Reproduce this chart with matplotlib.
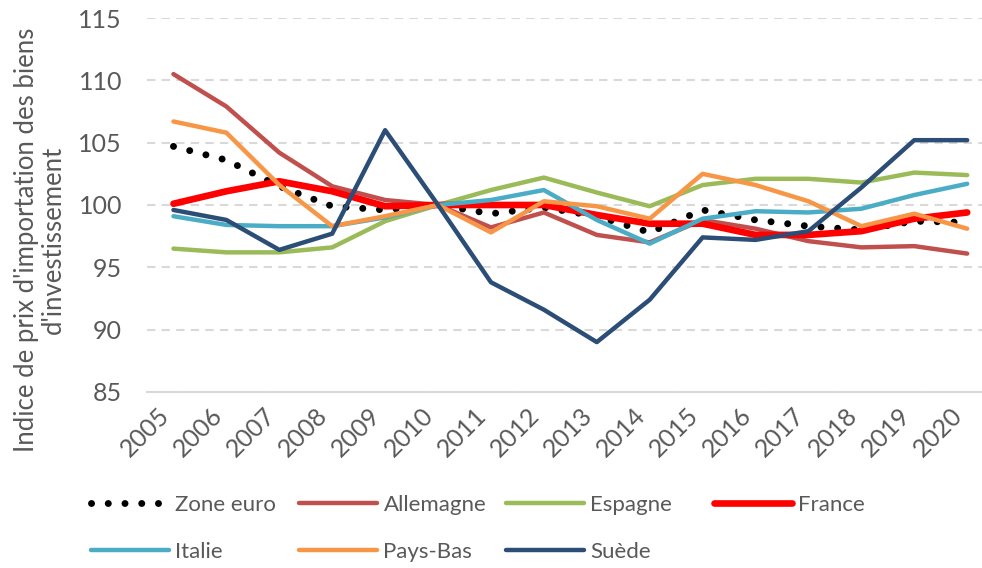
import matplotlib.pyplot as plt
from matplotlib.lines import Line2D

plt.rcParams['font.family'] = ['Lato', 'DejaVu Sans']

years = list(range(2005, 2021))

zone_euro = [104.7, 103.6, 101.5, 99.9, 99.6, 100.0, 99.3, 99.8, 99.1, 97.8, 99.6, 98.8, 98.3, 98.0, 98.7, 98.6]
allemagne = [110.5, 107.9, 104.2, 101.5, 100.4, 100.0, 98.2, 99.4, 97.6, 97.0, 98.8, 98.1, 97.1, 96.6, 96.7, 96.1]
espagne = [96.5, 96.2, 96.2, 96.6, 98.7, 100.0, 101.2, 102.2, 101.0, 99.9, 101.6, 102.1, 102.1, 101.8, 102.6, 102.4]
france = [100.1, 101.1, 101.9, 101.1, 99.9, 100.0, 100.0, 100.0, 99.2, 98.5, 98.5, 97.6, 97.6, 97.9, 98.9, 99.4]
italie = [99.1, 98.4, 98.3, 98.3, 99.0, 100.0, 100.4, 101.2, 98.8, 96.9, 98.9, 99.5, 99.4, 99.7, 100.8, 101.7]
pays_bas = [106.7, 105.8, 101.6, 98.3, 99.1, 100.0, 97.8, 100.3, 99.9, 98.9, 102.5, 101.6, 100.3, 98.3, 99.3, 98.1]
suede = [99.6, 98.8, 96.4, 97.7, 106.0, 100.0, 93.8, 91.6, 89.0, 92.4, 97.4, 97.2, 97.9, 101.4, 105.2, 105.2]

labels = ['Zone euro', 'Allemagne', 'Espagne', 'France', 'Italie', 'Pays-Bas', 'Suède']
colors = ['black', '#C0504D', '#9BBB59', '#FF0000', '#4BACC6', '#F79646', '#2C4D75']
series = [zone_euro, allemagne, espagne, france, italie, pays_bas, suede]

grey = '#595959'
dots = (0, (0.01, 2.4))

fig = plt.figure(figsize=(9.82, 5.68), dpi=100)
ax = fig.add_axes([0.1497, 0.3099, 0.8503, 0.6584])

styles = []
for vals, lab, col in zip(series, labels, colors):
    if lab == 'Zone euro':
        st = dict(color=col, lw=5, linestyle=dots, dash_capstyle='round')
    elif lab == 'France':
        st = dict(color=col, lw=4.8, solid_capstyle='round')
    else:
        st = dict(color=col, lw=3.2, solid_capstyle='round')
    ax.plot(years, vals, label=lab, **st)
    styles.append(st)

ax.set_xlim(2004.5, 2020.28)
ax.set_ylim(85, 115)
ax.set_yticks(range(85, 116, 5))
ax.set_xticks(years)
ax.set_xticklabels([str(y) for y in years], rotation=45, ha='right')
ax.grid(axis='y', color='#D9D9D9', lw=1.5, linestyle=(0, (4, 3)))
ax.set_axisbelow(True)
for s in ['top', 'right', 'left']:
    ax.spines[s].set_visible(False)
ax.spines['bottom'].set_color('#D9D9D9')
ax.spines['bottom'].set_linewidth(1.5)
ax.tick_params(axis='both', length=0, colors=grey, labelsize=18)
ax.tick_params(axis='y', pad=18)
ax.tick_params(axis='x', pad=8)

fig.text(40 / 982, 1 - 240 / 568, "Indice de prix d'importation des biens\nd'investissement",
         rotation=90, ha='center', va='center', multialignment='center',
         fontsize=18.5, color=grey, linespacing=1.05)

# legend: 4 columns at fixed pitch like the original
col_x = [91, 299, 506, 714]
cols = [[0, 4], [1, 5], [2, 6], [3]]
for cx, idx in zip(col_x, cols):
    leg_handles = [Line2D([], [], **styles[i]) for i in idx]
    leg = fig.legend(leg_handles, [labels[i] for i in idx], loc='upper left',
                     bbox_to_anchor=(cx / 982, 1 - 495 / 568), frameon=False,
                     fontsize=16, handlelength=3.5, handletextpad=0.3,
                     borderpad=0, borderaxespad=0, labelspacing=1.2)
    for t in leg.get_texts():
        t.set_color(grey)

fig.savefig('out.png', dpi=100)
